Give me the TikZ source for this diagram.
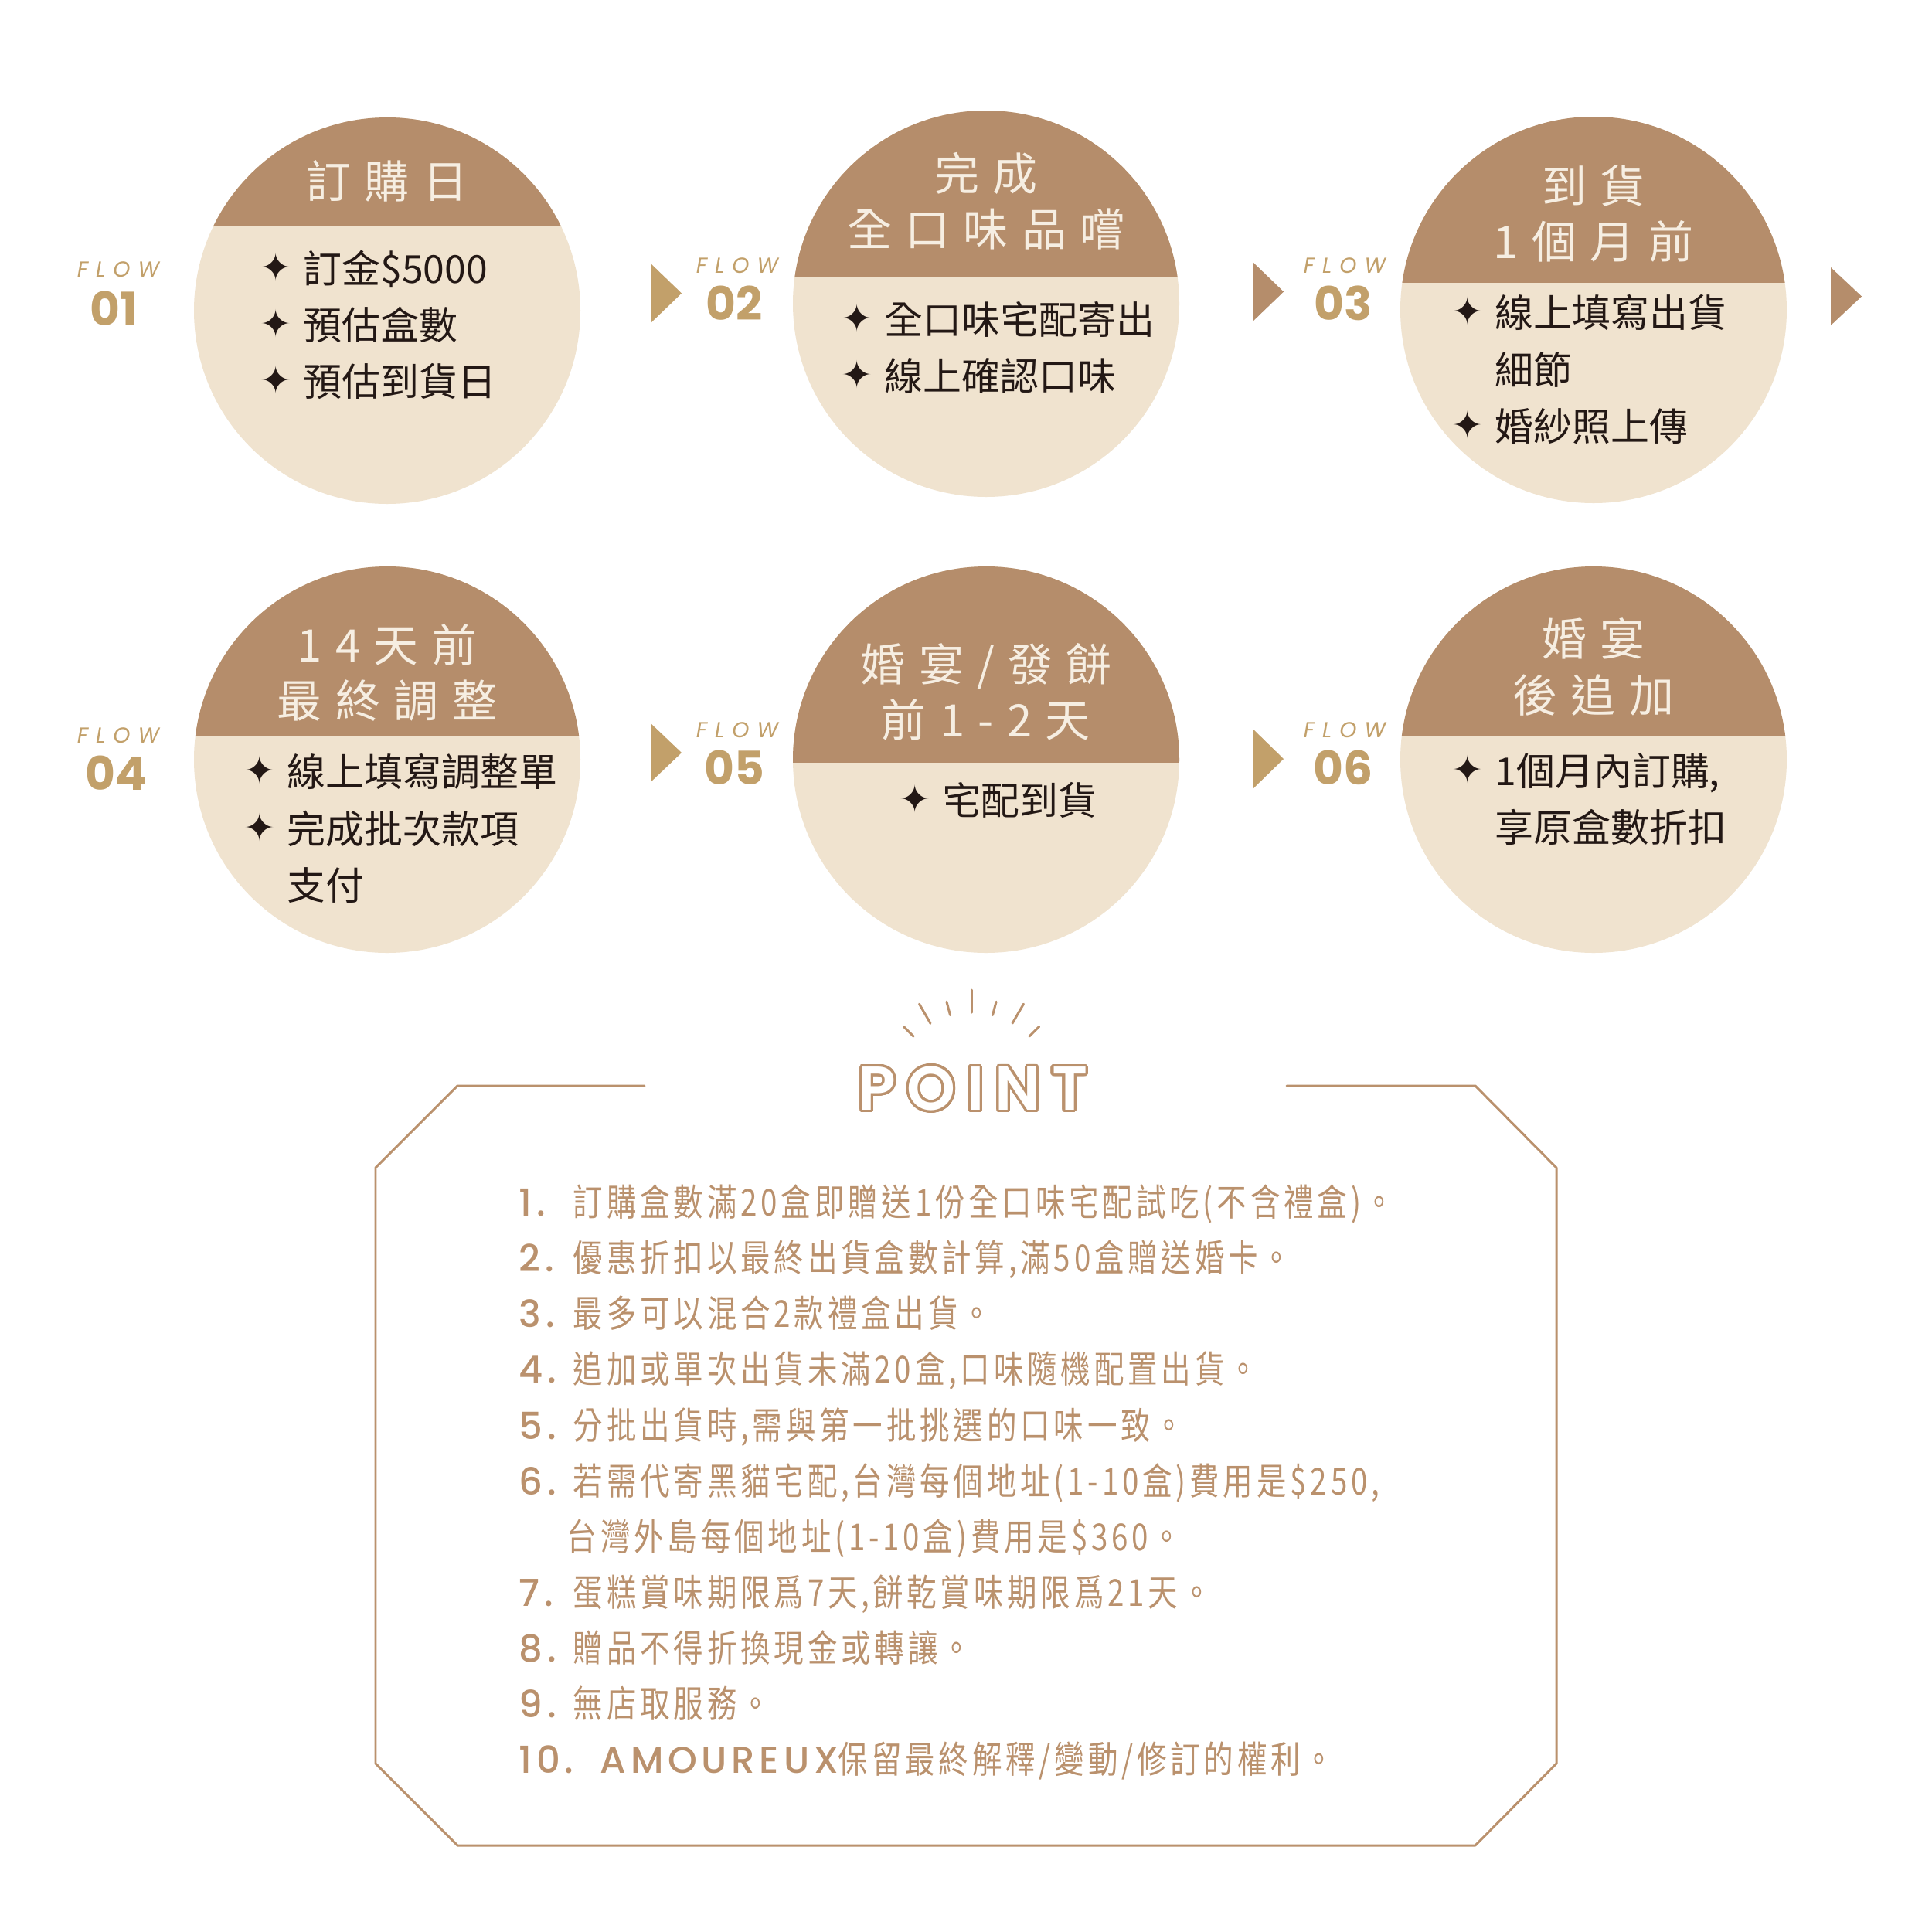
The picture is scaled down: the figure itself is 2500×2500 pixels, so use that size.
\documentclass[tikz,border=0pt]{standalone}
\usepackage{fontspec}
\usepackage{contour}
\usetikzlibrary{calc}

\newfontfamily\cjkfont{Noto Sans CJK TC}
\newfontfamily\hdrfont[LetterSpace=30]{Noto Sans CJK TC}
\newfontfamily\notefont[FakeStretch=0.80,LetterSpace=10]{Noto Sans CJK TC}
\newfontfamily\symfont{DejaVu Sans}
\newfontfamily\flowfont[LetterSpace=36]{Poppins Italic}
\newfontfamily\numfont{Poppins Bold}
\newfontfamily\pointfont[LetterSpace=18]{Poppins SemiBold}
\newfontfamily\latinfont[LetterSpace=12]{Poppins Medium}

\definecolor{hdrbrown}{HTML}{B58D6B}
\definecolor{discream}{HTML}{F0E3CF}
\definecolor{flowgold}{HTML}{C2A06A}
\definecolor{inkdark}{HTML}{231815}
\definecolor{hdrtextc}{HTML}{F6EEE2}
\definecolor{linebrown}{HTML}{BA916D}

\contourlength{0.9pt}
\contournumber{32}

\newcommand{\bul}{\makebox[5.6mm][l]{\raisebox{0.3mm}{\symfont\fontsize{14}{14}\selectfont ✦}}}
\newcommand{\cont}{\hspace*{5.6mm}}
\newcommand{\nno}[1]{\makebox[7mm][l]{\latinfont #1}}

\tikzset{
  stepdisc/.style={circle, fill=discream, minimum size=50mm, inner sep=0pt},
  hdrtext/.style={inner sep=0pt, align=center, text=hdrtextc,
    font=\hdrfont\fontsize{16.5}{20.5}\selectfont},
  bodytext/.style={anchor=west, inner sep=0pt, align=left, text=inkdark,
    font=\cjkfont\fontsize{14.2}{20.8}\selectfont},
  flowtag/.style={inner sep=0pt, text=flowgold, font=\flowfont\fontsize{8}{8}\selectfont},
  flownum/.style={inner sep=0pt, text=flowgold, font=\numfont\fontsize{17}{17}\selectfont},
  notetext/.style={anchor=west, inner sep=0pt, align=left, text=linebrown,
    font=\notefont\fontsize{13.7}{20.5}\selectfont},
  pointword/.style={inner sep=0pt, text=white, font=\pointfont\fontsize{22.8}{24}\selectfont},
  boxline/.style={draw=linebrown, line width=0.85pt},
  ray/.style={draw=linebrown, line width=0.85pt}
}

\begin{document}
\begin{tikzpicture}[x=0.1mm, y=-0.1mm, line join=round, line cap=round]
  \fill[white] (0,0) rectangle (2500,2500);
  \useasboundingbox (0,0) rectangle (2500,2500);

  % discs
  \node[stepdisc] (s1) at (501,402) {};
  \node[stepdisc] (s2) at (1276,393) {};
  \node[stepdisc] (s3) at (2062,401) {};
  \node[stepdisc] (s4) at (501,983) {};
  \node[stepdisc] (s5) at (1276,983) {};
  \node[stepdisc] (s6) at (2062,983) {};
  \foreach \s/\h in {s1/109, s2/34, s3/35, s4/30, s5/-4, s6/30} {
    \begin{scope}
      \clip (\s.center) circle (25mm);
      \fill[hdrbrown] ($(\s.center)+(-260,-260)$) rectangle ($(\s.center)+(260,-\h)$);
    \end{scope}
  }

  % headers
  \node[hdrtext] (h1) at (501,234) {訂購日};
  \node[hdrtext] (h2) at (1276,260) {完成\\全口味品嚐};
  \node[hdrtext] (h3) at (2062,276) {到貨\\1個月前};
  \node[hdrtext] (h4) at (501,870) {14天前\\最終調整};
  \node[hdrtext] (h5) at (1276,895) {婚宴/發餅\\前1-2天};
  \node[hdrtext] (h6) at (2062,863) {婚宴\\後追加};

  % bodies
  \node[bodytext] (b1) at (336,420) {\bul 訂金\$5000\\\bul 預估盒數\\\bul 預估到貨日};
  \node[bodytext] (b2) at (1088,450) {\bul 全口味宅配寄出\\\bul 線上確認口味};
  \node[bodytext] (b3) at (1878,478) {\bul 線上填寫出貨\\\cont 細節\\\bul 婚紗照上傳};
  \node[bodytext] (b4) at (315,1072) {\bul 線上填寫調整單\\\bul 完成批次款項\\\cont 支付};
  \node[bodytext] (b5) at (1163,1035) {\bul 宅配到貨};
  \node[bodytext] (b6) at (1878,1034) {\bul 1個月內訂購,\\\cont 享原盒數折扣};

  % flow tags
  \node[flowtag] (f1) at (153,349) {FLOW};
  \node[flownum] (n1) at (147,399) {01};
  \node[flowtag] (f2) at (954,344) {FLOW};
  \node[flownum] (n2) at (950,392) {02};
  \node[flowtag] (f3) at (1740,344) {FLOW};
  \node[flownum] (n3) at (1738,392) {03};
  \node[flowtag] (f4) at (153,952) {FLOW};
  \node[flownum] (n4) at (150,1000) {04};
  \node[flowtag] (f5) at (954,945) {FLOW};
  \node[flownum] (n5) at (950,993) {05};
  \node[flowtag] (f6) at (1740,945) {FLOW};
  \node[flownum] (n6) at (1738,993) {06};

  % arrow marks
  \fill[flowgold] (842,341) -- (882,379.5) -- (842,418) -- cycle;
  \fill[hdrbrown] (1621,339) -- (1661,377.5) -- (1621,416) -- cycle;
  \fill[hdrbrown] (2369,346) -- (2409,383.5) -- (2369,421) -- cycle;
  \fill[flowgold] (842,936) -- (882,974) -- (842,1012) -- cycle;
  \fill[flowgold] (1622,944) -- (1661,982) -- (1622,1020) -- cycle;

  % point
  \coordinate (sun) at (1257,1416);
  \foreach \a/\r in {-135/124, -120/135, -105/124, -90/135, -75/124, -60/135, -45/124}
    \draw[ray] ($(sun)+(\a:106)$) -- ($(sun)+(\a:\r)$);
  \node[pointword] (pt) at (1259,1410) {\contour{linebrown}{POINT}};
  \draw[boxline] (834,1405) -- (592,1405) -- (486,1511) -- (486,2282) -- (592,2388)
    -- (1909,2388) -- (2014,2282) -- (2014,1511) -- (1909,1405) -- (1665,1405);

  \node[notetext] (notes) at (671,1918) {%
    \nno{1.}訂購盒數滿20盒即贈送1份全口味宅配試吃(不含禮盒)。\\
    \nno{2.}優惠折扣以最終出貨盒數計算,滿50盒贈送婚卡。\\
    \nno{3.}最多可以混合2款禮盒出貨。\\
    \nno{4.}追加或單次出貨未滿20盒,口味隨機配置出貨。\\
    \nno{5.}分批出貨時,需與第一批挑選的口味一致。\\
    \nno{6.}若需代寄黑貓宅配,台灣每個地址(1-10盒)費用是\$250,\\
    \hspace*{6.2mm}台灣外島每個地址(1-10盒)費用是\$360。\\
    \nno{7.}蛋糕賞味期限爲7天,餅乾賞味期限爲21天。\\
    \nno{8.}贈品不得折換現金或轉讓。\\
    \nno{9.}無店取服務。\\
    \makebox[10.5mm][l]{\latinfont 10.}{\latinfont AMOUREUX}保留最終解釋/變動/修訂的權利。};
\end{tikzpicture}
\end{document}
